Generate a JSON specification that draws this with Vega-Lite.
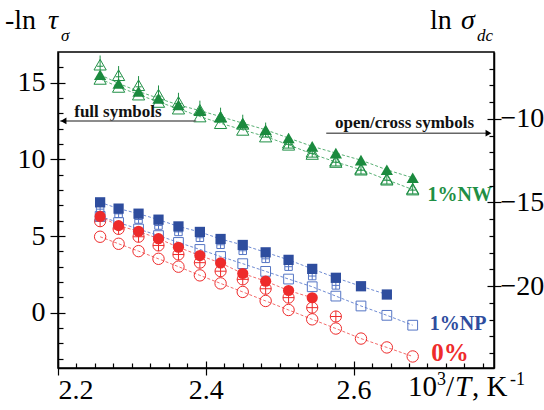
{
  "$schema": "https://vega.github.io/schema/vega-lite/v6.json",
  "width": 436,
  "height": 316,
  "autosize": {"type": "none"},
  "padding": {"left": 58, "top": 52, "right": 50, "bottom": 42},
  "config": {
    "view": {"stroke": "#000", "strokeWidth": 1.5},
    "font": "Liberation Serif",
    "axis": {"domainColor": "#000", "domainWidth": 1.5, "tickColor": "#000", "tickWidth": 1.2, "labelColor": "#000", "labelFont": "Liberation Serif", "labelFontSize": 28, "grid": false}
  },
  "datasets": {
    "pts": [
      {"s":"gf","x":2.257,"v":15.52},{"s":"gf","x":2.282,"v":14.95},{"s":"gf","x":2.309,"v":14.43},{"s":"gf","x":2.336,"v":13.98},{"s":"gf","x":2.363,"v":13.55},{"s":"gf","x":2.392,"v":13.18},{"s":"gf","x":2.420,"v":12.79},{"s":"gf","x":2.450,"v":12.36},{"s":"gf","x":2.481,"v":11.93},{"s":"gf","x":2.512,"v":11.39},{"s":"gf","x":2.544,"v":10.85},{"s":"gf","x":2.576,"v":10.41},{"s":"gf","x":2.610,"v":9.95},{"s":"gf","x":2.645,"v":9.32},{"s":"gf","x":2.680,"v":8.80},
      {"s":"go","x":2.257,"v":-7.61},{"s":"go","x":2.282,"v":-8.09},{"s":"go","x":2.309,"v":-8.55},{"s":"go","x":2.336,"v":-8.99},{"s":"go","x":2.363,"v":-9.39},{"s":"go","x":2.392,"v":-9.86},{"s":"go","x":2.420,"v":-10.26},{"s":"go","x":2.450,"v":-10.66},{"s":"go","x":2.481,"v":-11.06},{"s":"go","x":2.512,"v":-11.55},{"s":"go","x":2.544,"v":-12.10},{"s":"go","x":2.576,"v":-12.58},{"s":"go","x":2.610,"v":-13.04},{"s":"go","x":2.645,"v":-13.64},{"s":"go","x":2.680,"v":-14.23},
      {"s":"gc","x":2.257,"v":-6.76},{"s":"gc","x":2.282,"v":-7.39},{"s":"gc","x":2.309,"v":-7.99},{"s":"gc","x":2.336,"v":-8.55},{"s":"gc","x":2.363,"v":-8.99},{"s":"gc","x":2.392,"v":-9.46},{"s":"gc","x":2.420,"v":-9.88},{"s":"gc","x":2.450,"v":-10.30},{"s":"gc","x":2.481,"v":-10.77},{"s":"gc","x":2.512,"v":-11.43},{"s":"gc","x":2.544,"v":-11.97},{"s":"gc","x":2.576,"v":-12.50},{"s":"gc","x":2.610,"v":-12.98},{"s":"gc","x":2.645,"v":-13.58},{"s":"gc","x":2.680,"v":-14.17},
      {"s":"bf","x":2.257,"v":7.20},{"s":"bf","x":2.282,"v":6.79},{"s":"bf","x":2.309,"v":6.46},{"s":"bf","x":2.336,"v":6.07},{"s":"bf","x":2.363,"v":5.63},{"s":"bf","x":2.392,"v":5.27},{"s":"bf","x":2.420,"v":4.81},{"s":"bf","x":2.450,"v":4.42},{"s":"bf","x":2.481,"v":3.94},{"s":"bf","x":2.512,"v":3.45},{"s":"bf","x":2.544,"v":2.86},{"s":"bf","x":2.576,"v":2.28},{"s":"bf","x":2.610,"v":1.73},{"s":"bf","x":2.645,"v":1.19},
      {"s":"bo","x":2.257,"v":-15.83},{"s":"bo","x":2.282,"v":-16.20},{"s":"bo","x":2.309,"v":-16.59},{"s":"bo","x":2.336,"v":-16.98},{"s":"bo","x":2.363,"v":-17.39},{"s":"bo","x":2.392,"v":-17.81},{"s":"bo","x":2.420,"v":-18.23},{"s":"bo","x":2.450,"v":-18.66},{"s":"bo","x":2.481,"v":-19.12},{"s":"bo","x":2.512,"v":-19.58},{"s":"bo","x":2.544,"v":-20.04},{"s":"bo","x":2.576,"v":-20.60},{"s":"bo","x":2.610,"v":-21.19},{"s":"bo","x":2.645,"v":-21.75},{"s":"bo","x":2.680,"v":-22.34},
      {"s":"bc","x":2.257,"v":-15.40},{"s":"bc","x":2.282,"v":-15.68},{"s":"bc","x":2.309,"v":-16.02},{"s":"bc","x":2.336,"v":-16.38},{"s":"bc","x":2.363,"v":-16.76},{"s":"bc","x":2.392,"v":-17.11},{"s":"bc","x":2.420,"v":-17.53},{"s":"bc","x":2.450,"v":-17.89},{"s":"bc","x":2.481,"v":-18.37},{"s":"bc","x":2.512,"v":-18.84},{"s":"bc","x":2.544,"v":-19.40},{"s":"bc","x":2.576,"v":-19.96},
      {"s":"rf","x":2.257,"v":6.28},{"s":"rf","x":2.282,"v":5.68},{"s":"rf","x":2.309,"v":5.31},{"s":"rf","x":2.336,"v":4.83},{"s":"rf","x":2.363,"v":4.27},{"s":"rf","x":2.392,"v":3.73},{"s":"rf","x":2.420,"v":3.25},{"s":"rf","x":2.450,"v":2.56},{"s":"rf","x":2.481,"v":2.06},{"s":"rf","x":2.512,"v":1.45},{"s":"rf","x":2.544,"v":0.98},
      {"s":"ro","x":2.257,"v":-17.05},{"s":"ro","x":2.282,"v":-17.47},{"s":"ro","x":2.309,"v":-17.91},{"s":"ro","x":2.336,"v":-18.37},{"s":"ro","x":2.363,"v":-18.84},{"s":"ro","x":2.392,"v":-19.36},{"s":"ro","x":2.420,"v":-19.84},{"s":"ro","x":2.450,"v":-20.35},{"s":"ro","x":2.481,"v":-20.89},{"s":"ro","x":2.512,"v":-21.43},{"s":"ro","x":2.544,"v":-21.99},{"s":"ro","x":2.576,"v":-22.54},{"s":"ro","x":2.610,"v":-23.14},{"s":"ro","x":2.645,"v":-23.67},{"s":"ro","x":2.680,"v":-24.21},
      {"s":"rc","x":2.257,"v":-16.12},{"s":"rc","x":2.282,"v":-16.58},{"s":"rc","x":2.309,"v":-17.05},{"s":"rc","x":2.336,"v":-17.57},{"s":"rc","x":2.363,"v":-18.11},{"s":"rc","x":2.392,"v":-18.60},{"s":"rc","x":2.420,"v":-19.11},{"s":"rc","x":2.450,"v":-19.60},{"s":"rc","x":2.481,"v":-20.16},{"s":"rc","x":2.512,"v":-20.69},{"s":"rc","x":2.544,"v":-21.29},{"s":"rc","x":2.576,"v":-21.82}
    ]
  },
  "data": {"name": "pts"},
  "resolve": {"scale": {"y": "independent"}, "axis": {"x": "independent", "y": "independent"}},
  "encoding": {
    "x": {"field": "x", "type": "quantitative", "scale": {"domain": [2.2, 2.79], "nice": false, "zero": false}, "axis": null}
  },
  "layer": [
    {
      "transform": [{"filter": "datum.s === 'gf'"}],
      "mark": {"type": "line", "color": "#59b074", "strokeWidth": 1, "strokeDash": [3, 2]},
      "encoding": {
        "x": {"field": "x", "type": "quantitative", "scale": {"domain": [2.2, 2.79], "nice": false, "zero": false},
              "axis": {"orient": "bottom", "values": [2.2, 2.4, 2.6], "tickSize": 7, "labelPadding": 1, "title": null, "format": ".1f"}},
        "y": {"field": "v", "type": "quantitative", "scale": {"domain": [-3.6, 17], "nice": false, "zero": false},
              "axis": {"orient": "left", "values": [0, 5, 10, 15], "tickSize": 8, "labelPadding": 5, "title": null}}
      }
    },
    {
      "transform": [{"filter": "datum.s === 'go'"}],
      "mark": {"type": "line", "color": "#59b074", "strokeWidth": 1, "strokeDash": [3, 2]},
      "encoding": {
        "x": {"field": "x", "type": "quantitative", "scale": {"domain": [2.2, 2.79], "nice": false, "zero": false},
              "axis": {"orient": "bottom", "values": [2.225, 2.25, 2.275, 2.3, 2.325, 2.35, 2.375, 2.425, 2.45, 2.475, 2.5, 2.525, 2.55, 2.575, 2.625, 2.65, 2.675, 2.7, 2.725, 2.75, 2.775], "tickSize": -5, "labels": false, "domain": false, "title": null}},
        "y": {"field": "v", "type": "quantitative", "scale": {"domain": [-24.9, -6], "nice": false, "zero": false},
              "axis": {"orient": "right", "values": [-20, -15, -10], "tickSize": 7, "labelPadding": -1, "title": null}}
      }
    },
    {
      "transform": [{"filter": "datum.s === 'bf'"}],
      "mark": {"type": "line", "color": "#6f8bd3", "strokeWidth": 1, "strokeDash": [3, 2]},
      "encoding": {
        "x": {"field": "x", "type": "quantitative", "scale": {"domain": [2.2, 2.79], "nice": false, "zero": false},
              "axis": {"orient": "bottom", "values": [2.2, 2.4, 2.6], "tickSize": -7, "labels": false, "domain": false, "title": null}},
        "y": {"field": "v", "type": "quantitative", "scale": {"domain": [-3.6, 17], "nice": false, "zero": false},
              "axis": {"orient": "left", "values": [-3, -2, -1, 1, 2, 3, 4, 6, 7, 8, 9, 11, 12, 13, 14, 16], "tickSize": -5, "labels": false, "domain": false, "title": null}}
      }
    },
    {
      "transform": [{"filter": "datum.s === 'bo'"}],
      "mark": {"type": "line", "color": "#6f8bd3", "strokeWidth": 1, "strokeDash": [3, 2]},
      "encoding": {
        "y": {"field": "v", "type": "quantitative", "scale": {"domain": [-24.9, -6], "nice": false, "zero": false},
              "axis": {"orient": "right", "values": [-24, -23, -22, -21, -19, -18, -17, -16, -14, -13, -12, -11, -9, -8, -7], "tickSize": -5, "labels": false, "domain": false, "title": null}}
      }
    },
    {
      "transform": [{"filter": "datum.s === 'rf'"}],
      "mark": {"type": "line", "color": "#f36c6c", "strokeWidth": 1, "strokeDash": [3, 2]},
      "encoding": {
        "y": {"field": "v", "type": "quantitative", "scale": {"domain": [-3.6, 17], "nice": false, "zero": false},
              "axis": {"orient": "left", "values": [0, 5, 10, 15], "tickSize": -7, "labels": false, "domain": false, "title": null}}
      }
    },
    {
      "transform": [{"filter": "datum.s === 'ro'"}],
      "mark": {"type": "line", "color": "#f36c6c", "strokeWidth": 1, "strokeDash": [3, 2]},
      "encoding": {
        "y": {"field": "v", "type": "quantitative", "scale": {"domain": [-24.9, -6], "nice": false, "zero": false},
              "axis": {"orient": "right", "values": [-20, -15, -10], "tickSize": -7, "labels": false, "domain": false, "title": null}}
      }
    },
    {
      "transform": [{"filter": "datum.s === 'rc'"}],
      "mark": {"type": "point", "shape": "circle", "filled": false, "color": "#ee2b2b", "size": 125, "strokeWidth": 1, "opacity": 1},
      "encoding": {"y": {"field": "v", "type": "quantitative", "scale": {"domain": [-24.9, -6], "nice": false, "zero": false}, "axis": null}}
    },
    {
      "transform": [{"filter": "datum.s === 'rc'"}],
      "mark": {"type": "point", "shape": "M -1 0 L 1 0 M 0 -1 L 0 1", "filled": false, "color": "#ee2b2b", "size": 125, "strokeWidth": 1, "opacity": 1},
      "encoding": {"y": {"field": "v", "type": "quantitative", "scale": {"domain": [-24.9, -6], "nice": false, "zero": false}, "axis": null}}
    },
    {
      "transform": [{"filter": "datum.s === 'ro'"}],
      "mark": {"type": "point", "shape": "circle", "filled": false, "color": "#ee2b2b", "size": 130, "strokeWidth": 1, "opacity": 1},
      "encoding": {"y": {"field": "v", "type": "quantitative", "scale": {"domain": [-24.9, -6], "nice": false, "zero": false}, "axis": null}}
    },
    {
      "transform": [{"filter": "datum.s === 'bc'"}],
      "mark": {"type": "point", "shape": "M -1 -1 L 1 -1 L 1 1 L -1 1 Z M -1 0 L 1 0 M 0 -1 L 0 1", "filled": false, "color": "#5575c4", "size": 56, "strokeWidth": 1, "opacity": 1},
      "encoding": {"y": {"field": "v", "type": "quantitative", "scale": {"domain": [-24.9, -6], "nice": false, "zero": false}, "axis": null}}
    },
    {
      "transform": [{"filter": "datum.s === 'bo'"}],
      "mark": {"type": "point", "shape": "square", "filled": false, "color": "#5575c4", "size": 95, "strokeWidth": 1, "opacity": 1},
      "encoding": {"y": {"field": "v", "type": "quantitative", "scale": {"domain": [-24.9, -6], "nice": false, "zero": false}, "axis": null}}
    },
    {
      "transform": [{"filter": "datum.s === 'gc'"}],
      "mark": {"type": "point", "shape": "M 0 -0.866 L -1 0.866 L 1 0.866 Z M 0 -1.5 L 0 0.866 M -0.5 0.25 L 0.5 0.25", "filled": false, "color": "#1f8f45", "size": 150, "strokeWidth": 1, "opacity": 1},
      "encoding": {"y": {"field": "v", "type": "quantitative", "scale": {"domain": [-24.9, -6], "nice": false, "zero": false}, "axis": null}}
    },
    {
      "transform": [{"filter": "datum.s === 'go'"}],
      "mark": {"type": "point", "shape": "triangle-up", "filled": false, "color": "#1f8f45", "size": 150, "strokeWidth": 1, "opacity": 1},
      "encoding": {"y": {"field": "v", "type": "quantitative", "scale": {"domain": [-24.9, -6], "nice": false, "zero": false}, "axis": null}}
    },
    {
      "transform": [{"filter": "datum.s === 'rf'"}],
      "mark": {"type": "point", "shape": "circle", "filled": true, "color": "#ee2b2b", "size": 125, "opacity": 1},
      "encoding": {"y": {"field": "v", "type": "quantitative", "scale": {"domain": [-3.6, 17], "nice": false, "zero": false}, "axis": null}}
    },
    {
      "transform": [{"filter": "datum.s === 'bf'"}],
      "mark": {"type": "point", "shape": "square", "filled": true, "color": "#2e4d9e", "size": 105, "opacity": 1},
      "encoding": {"y": {"field": "v", "type": "quantitative", "scale": {"domain": [-3.6, 17], "nice": false, "zero": false}, "axis": null}}
    },
    {
      "transform": [{"filter": "datum.s === 'gf'"}],
      "mark": {"type": "point", "shape": "triangle-up", "filled": true, "color": "#1b8a3e", "size": 150, "opacity": 1},
      "encoding": {"y": {"field": "v", "type": "quantitative", "scale": {"domain": [-3.6, 17], "nice": false, "zero": false}, "axis": null}}
    },
    {
      "data": {"values": [
        {"t": "1%NW", "x": 2.700, "v": 7.70, "c": "nw"},
        {"t": "1%NP", "x": 2.703, "v": -0.76, "c": "np"}
      ]},
      "mark": {"type": "text", "align": "left", "baseline": "middle", "fontWeight": "bold", "fontSize": 20, "font": "Liberation Serif"},
      "encoding": {
        "y": {"field": "v", "type": "quantitative", "scale": {"domain": [-3.6, 17], "nice": false, "zero": false}, "axis": null},
        "text": {"field": "t"},
        "color": {"field": "c", "type": "nominal", "scale": {"domain": ["nw", "np"], "range": ["#1f8f45", "#2e4d9e"]}, "legend": null}
      }
    },
    {
      "data": {"values": [{"t": "0%", "x": 2.705, "v": -2.6}]},
      "mark": {"type": "text", "align": "left", "baseline": "middle", "fontWeight": "bold", "fontSize": 25, "font": "Liberation Serif", "color": "#ee2b2b"},
      "encoding": {
        "y": {"field": "v", "type": "quantitative", "scale": {"domain": [-3.6, 17], "nice": false, "zero": false}, "axis": null},
        "text": {"field": "t"}
      }
    },
    {
      "data": {"values": [
        {"t": "full symbols", "x": 2.222, "v": 12.77},
        {"t": "open/cross symbols", "x": 2.575, "v": 12.04}
      ]},
      "mark": {"type": "text", "align": "left", "baseline": "alphabetic", "fontWeight": "bold", "fontSize": 17, "font": "Liberation Serif", "color": "#111"},
      "encoding": {
        "y": {"field": "v", "type": "quantitative", "scale": {"domain": [-3.6, 17], "nice": false, "zero": false}, "axis": null},
        "text": {"field": "t"}
      }
    },
    {
      "data": {"values": [
        {"x": 2.203, "x2": 2.387, "v": 12.51},
        {"x": 2.563, "x2": 2.784, "v": 11.71}
      ]},
      "mark": {"type": "rule", "color": "#666", "strokeWidth": 1.5},
      "encoding": {
        "x2": {"field": "x2"},
        "y": {"field": "v", "type": "quantitative", "scale": {"domain": [-3.6, 17], "nice": false, "zero": false}, "axis": null}
      }
    },
    {
      "data": {"values": [
        {"x": 2.2075, "v": 12.51, "d": "l"},
        {"x": 2.7825, "v": 11.71, "d": "r"}
      ]},
      "mark": {"type": "point", "filled": true, "color": "#000", "size": 45, "opacity": 1},
      "encoding": {
        "y": {"field": "v", "type": "quantitative", "scale": {"domain": [-3.6, 17], "nice": false, "zero": false}, "axis": null},
        "shape": {"field": "d", "type": "nominal", "scale": {"domain": ["l", "r"], "range": ["triangle-left", "triangle-right"]}, "legend": null}
      }
    },
    {
      "data": {"values": [
        {"t": "-ln", "x": 2.1283, "v": 18.5},
        {"t": "ln", "x": 2.7034, "v": 18.5}
      ]},
      "mark": {"type": "text", "align": "left", "baseline": "alphabetic", "fontSize": 28, "font": "Liberation Serif", "color": "#000"},
      "encoding": {
        "y": {"field": "v", "type": "quantitative", "scale": {"domain": [-3.6, 17], "nice": false, "zero": false}, "axis": null},
        "text": {"field": "t"}
      }
    },
    {
      "data": {"values": [
        {"t": "10", "x": 2.6736, "v": -5.43},
        {"t": "/", "x": 2.725, "v": -5.43},
        {"t": ", K", "x": 2.7602, "v": -5.43}
      ]},
      "mark": {"type": "text", "align": "left", "baseline": "alphabetic", "fontSize": 29, "font": "Liberation Serif", "color": "#000"},
      "encoding": {
        "y": {"field": "v", "type": "quantitative", "scale": {"domain": [-3.6, 17], "nice": false, "zero": false}, "axis": null},
        "text": {"field": "t"}
      }
    },
    {
      "data": {"values": [
        {"t": "τ", "x": 2.1865, "v": 18.5},
        {"t": "σ", "x": 2.7453, "v": 18.5}
      ]},
      "mark": {"type": "text", "align": "left", "baseline": "alphabetic", "fontSize": 28, "fontStyle": "italic", "font": "Liberation Serif", "color": "#000"},
      "encoding": {
        "y": {"field": "v", "type": "quantitative", "scale": {"domain": [-3.6, 17], "nice": false, "zero": false}, "axis": null},
        "text": {"field": "t"}
      }
    },
    {
      "data": {"values": [
        {"t": "T", "x": 2.7372, "v": -5.43}
      ]},
      "mark": {"type": "text", "align": "left", "baseline": "alphabetic", "fontSize": 29, "fontStyle": "italic", "font": "Liberation Serif", "color": "#000"},
      "encoding": {
        "y": {"field": "v", "type": "quantitative", "scale": {"domain": [-3.6, 17], "nice": false, "zero": false}, "axis": null},
        "text": {"field": "t"}
      }
    },
    {
      "data": {"values": [
        {"t": "σ", "x": 2.2041, "v": 17.72},
        {"t": "dc", "x": 2.767, "v": 17.72}
      ]},
      "mark": {"type": "text", "align": "left", "baseline": "alphabetic", "fontSize": 17, "fontStyle": "italic", "font": "Liberation Serif", "color": "#000"},
      "encoding": {
        "y": {"field": "v", "type": "quantitative", "scale": {"domain": [-3.6, 17], "nice": false, "zero": false}, "axis": null},
        "text": {"field": "t"}
      }
    },
    {
      "data": {"values": [
        {"t": "3", "x": 2.7129, "v": -4.68},
        {"t": "-1", "x": 2.8116, "v": -4.68}
      ]},
      "mark": {"type": "text", "align": "left", "baseline": "alphabetic", "fontSize": 18, "font": "Liberation Serif", "color": "#000"},
      "encoding": {
        "y": {"field": "v", "type": "quantitative", "scale": {"domain": [-3.6, 17], "nice": false, "zero": false}, "axis": null},
        "text": {"field": "t"}
      }
    }
  ]
}
